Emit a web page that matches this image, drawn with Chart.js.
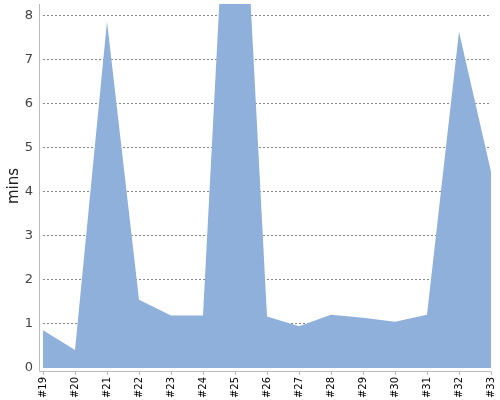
<!DOCTYPE html>
<html>
<head>
<meta charset="utf-8">
<script src="https://cdn.jsdelivr.net/npm/chart.js@4.4.0/dist/chart.umd.min.js"></script>
<style>
  html, body { margin: 0; padding: 0; background: #fff; }
  #wrap { width: 500px; height: 400px; }
</style>
</head>
<body>
<div id="wrap"><canvas id="graph"></canvas></div>
<script>
const builds = ['#19', '#20', '#21', '#22', '#23', '#24', '#25', '#26', '#27', '#28', '#29', '#30', '#31', '#32', '#33'];
const durations = [0.86, 0.41, 7.87, 1.55, 1.19, 1.19, 15.1, 1.17, 0.95, 1.21, 1.14, 1.05, 1.21, 7.64, 4.46];
const yTicks = [0, 1, 2, 3, 4, 5, 6, 7, 8];

// axis lines sit a few px outside the plot, like the original
const axisLines = {
  id: 'axisLines',
  afterDraw(chart) {
    const ctx = chart.ctx;
    const a = chart.chartArea;
    const x = chart.scales.x;
    ctx.save();
    ctx.strokeStyle = '#bbb';
    ctx.lineWidth = 1;
    ctx.beginPath();
    ctx.moveTo(a.left - 3.5, a.top);
    ctx.lineTo(a.left - 3.5, a.bottom + 3.5);
    ctx.lineTo(a.right, a.bottom + 3.5);
    for (let i = 0; i < builds.length; i++) {
      const px = Math.round(x.getPixelForTick(i)) + 0.5;
      ctx.moveTo(px, a.bottom + 3.5);
      ctx.lineTo(px, a.bottom + 7);
    }
    ctx.stroke();
    ctx.restore();
  }
};

new Chart(document.getElementById('graph'), {
  type: 'line',
  data: {
    labels: builds,
    datasets: [{
      data: durations,
      fill: 'origin',
      backgroundColor: 'rgb(142, 176, 218)',
      borderWidth: 0,
      pointRadius: 0,
      tension: 0
    }]
  },
  options: {
    responsive: true,
    maintainAspectRatio: false,
    animation: false,
    layout: { padding: { top: 4, right: 9, left: 0, bottom: 0 } },
    plugins: { legend: { display: false }, tooltip: { enabled: false } },
    scales: {
      x: {
        offset: false,
        afterFit: scale => {
          scale.height = 32;
          scale.paddingLeft = 0;
          scale.paddingRight = 0;
        },
        grid: { display: false, drawTicks: false },
        border: { display: false },
        ticks: {
          minRotation: 90,
          maxRotation: 90,
          autoSkip: false,
          padding: 9,
          color: '#000',
          font: { family: 'DejaVu Sans', size: 10 }
        }
      },
      y: {
        min: 0,
        max: 8.27,
        afterBuildTicks: scale => { scale.ticks = yTicks.map(v => ({ value: v })); },
        afterFit: scale => {
          scale.width = 43;
          scale.paddingTop = 0;
          scale.paddingBottom = 0;
        },
        grid: {
          color: ctx => ctx.tick && ctx.tick.value === 0 ? 'rgba(0,0,0,0)' : '#888',
          drawTicks: false
        },
        border: { display: false, dash: [2, 2] },
        ticks: {
          padding: 10,
          color: '#444',
          font: { family: 'DejaVu Sans', size: 13 }
        },
        title: {
          display: true,
          text: 'mins',
          color: '#222',
          padding: { top: 5, bottom: 2 },
          font: { family: 'DejaVu Sans', size: 15 }
        }
      }
    }
  },
  plugins: [axisLines]
});
</script>
</body>
</html>
